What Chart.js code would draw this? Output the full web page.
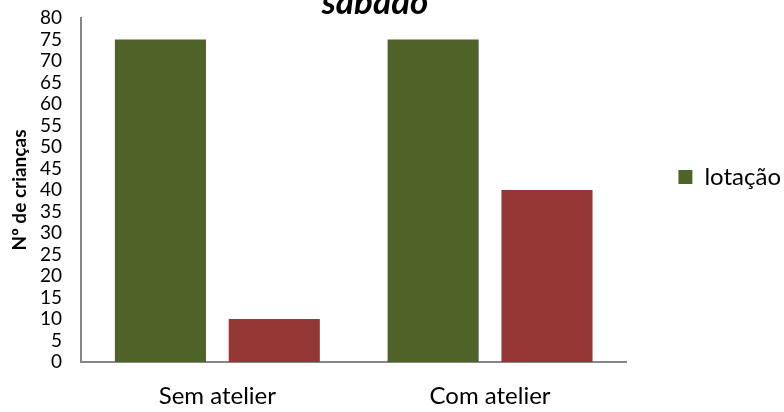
<!DOCTYPE html>
<html>
<head>
<meta charset="utf-8">
<script src="https://cdn.jsdelivr.net/npm/chart.js@4"></script>
<style>
    body { margin: 0; background: #fff; }
</style>
</head>
<body>
<canvas id="chart" width="784" height="412"></canvas>
<script>
let categories = ['Sem atelier', 'Com atelier'];
let lotacao = [75, 75];
let segunda = [10, 40];
let yTicks = [0, 80, 5]; // min, max, step

const font = 'Lato, "Open Sans", sans-serif';

// title sits partly above the canvas, like in the original
const titlePlugin = {
    id: 'cutTitle',
    afterLayout(chart) {
        // legend sits a bit above the middle of the plot
        chart.legend.top -= 13;
        chart.legend.bottom -= 13;
    },
    afterDraw(chart) {
        const ctx = chart.ctx;
        ctx.save();
        ctx.font = 'italic bold 35px ' + font;
        ctx.fillStyle = '#000';
        ctx.textAlign = 'center';
        ctx.textBaseline = 'alphabetic';
        ctx.fillText('sábado', 375, 14);
        ctx.restore();
    }
};

const chart = new Chart(document.getElementById('chart'), {
    type: 'bar',
    data: {
        labels: categories,
        datasets: [{
            label: 'lotação',
            data: lotacao,
            backgroundColor: '#4F6228'
        }, {
            label: '',
            data: segunda,
            backgroundColor: '#953735'
        }]
    },
    options: {
        responsive: false,
        animation: false,
        categoryPercentage: 0.835,
        barPercentage: 0.8,
        layout: { padding: { top: 0, left: 4, right: -7, bottom: 4 } },
        plugins: {
            title: { display: false },
            tooltip: { enabled: false },
            legend: {
                position: 'right',
                fullSize: false,
                labels: {
                    filter: item => item.text !== '',
                    boxWidth: 14,
                    boxHeight: 14,
                    padding: 52,
                    color: '#000',
                    font: { family: font, size: 24 }
                }
            }
        },
        scales: {
            x: {
                grid: { display: false, drawTicks: false },
                border: { color: '#868686', width: 2 },
                ticks: { color: '#000', padding: 20, font: { family: font, size: 24 } },
                afterFit(scale) { scale.height = 46; }
            },
            y: {
                min: yTicks[0],
                max: yTicks[1],
                grid: { display: false, drawTicks: false },
                border: { color: '#868686', width: 2 },
                ticks: { stepSize: yTicks[2], autoSkip: false, color: '#000', padding: 19, font: { family: font, size: 19 } },
                title: {
                    display: true,
                    text: 'Nº de crianças',
                    color: '#000',
                    padding: { top: 4, bottom: 0 },
                    font: { family: font, size: 19, weight: 'bold' }
                },
                afterFit(scale) {
                    scale.width = 77;
                    scale.paddingTop = 18;
                }
            }
        }
    },
    plugins: [titlePlugin]
});
</script>
</body>
</html>
